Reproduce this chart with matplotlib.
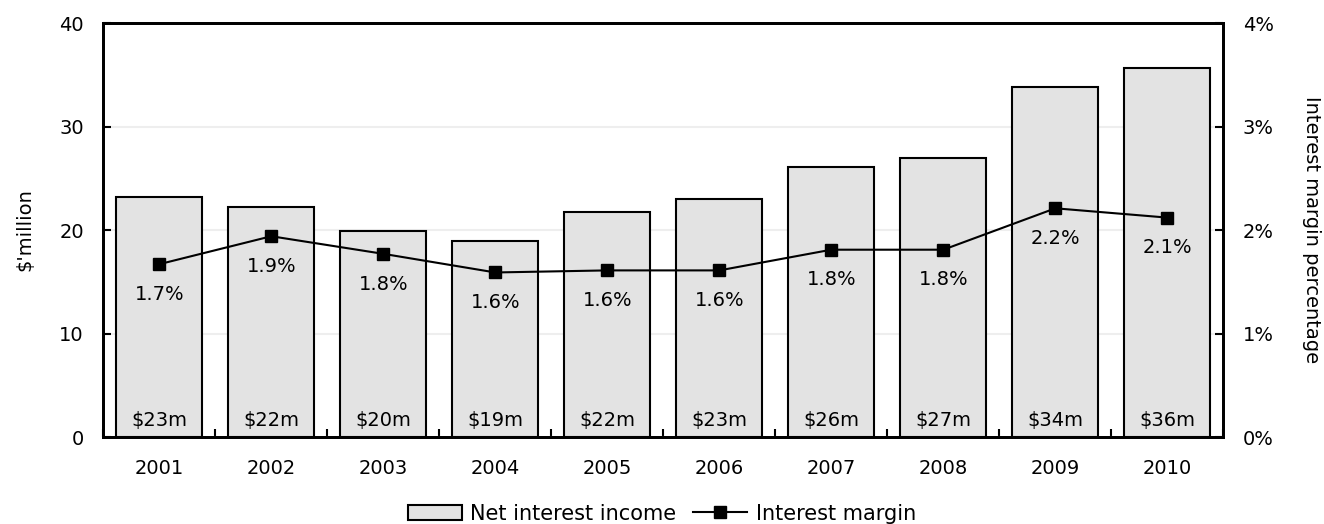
import numpy as np
import matplotlib.pyplot as plt
from matplotlib.ticker import FuncFormatter

# Net interest income ($m) and interest margin (%) by year
years = ["2001", "2002", "2003", "2004", "2005", "2006", "2007", "2008", "2009", "2010"]
income = [23.2, 22.2, 19.9, 18.9, 21.7, 23.0, 26.1, 27.0, 33.8, 35.7]
income_labels = ["$23m", "$22m", "$20m", "$19m", "$22m", "$23m", "$26m", "$27m", "$34m", "$36m"]
margin = [1.67, 1.94, 1.77, 1.59, 1.61, 1.61, 1.81, 1.81, 2.21, 2.12]
margin_labels = ["1.7%", "1.9%", "1.8%", "1.6%", "1.6%", "1.6%", "1.8%", "1.8%", "2.2%", "2.1%"]

plt.rcParams["font.family"] = ["DejaVu Sans"]
FS = 14

fig = plt.figure(figsize=(13.24, 5.24), dpi=100)
ax = fig.add_axes([0.078, 0.166, 0.846, 0.790])
x = np.arange(len(years))

# bars on left axis
bars = ax.bar(x, income, width=0.77, color="#e3e3e3", edgecolor="black",
              linewidth=1.5, zorder=2, label="Net interest income")
for xi, lab in zip(x, income_labels):
    ax.text(xi, 0.7, lab, ha="center", va="bottom", fontsize=FS, zorder=5)

ax.set_xlim(-0.5, len(years) - 0.5)
ax.set_ylim(0, 40)
ax.set_yticks([0, 10, 20, 30, 40])
ax.set_xticks(x)
ax.set_xticklabels(years, fontsize=FS)
ax.set_xticks(np.arange(len(years) + 1) - 0.5, minor=True)
ax.tick_params(axis="x", which="major", length=0, pad=16)
ax.tick_params(axis="x", which="minor", direction="in", length=6, width=1.5)
ax.tick_params(axis="y", direction="in", length=6, width=1.5, labelsize=FS, pad=14)
ax.set_ylabel("$'million", fontsize=FS, labelpad=18)
ax.grid(axis="y", color="#eeeeee", linewidth=1.5, zorder=0)
ax.set_axisbelow(True)
for sp in ax.spines.values():
    sp.set_linewidth(2)

# margin line on right axis
ax2 = ax.twinx()
line, = ax2.plot(x, margin, color="black", linewidth=1.5, marker="s",
                 markersize=8, zorder=4, label="Interest margin")
for xi, m, lab in zip(x, margin, margin_labels):
    ax2.text(xi, m - 0.2, lab, ha="center", va="top", fontsize=FS, zorder=5)
ax2.set_ylim(0, 4)
ax2.set_yticks([0, 1, 2, 3, 4])
ax2.yaxis.set_major_formatter(FuncFormatter(lambda v, pos: f"{v:.0f}%"))
ax2.tick_params(axis="y", direction="in", length=6, width=1.5, labelsize=FS, pad=14)
ax2.set_ylabel("Interest margin percentage", fontsize=FS, rotation=270,
               labelpad=34)
for sp in ax2.spines.values():
    sp.set_linewidth(2)

fig.legend(handles=[bars, line], loc="lower center", ncol=2, frameon=False,
           fontsize=15, bbox_to_anchor=(0.5, -0.035), handlelength=2.6,
           columnspacing=0.8, handletextpad=0.4)

fig.savefig("out.png", dpi=100)
